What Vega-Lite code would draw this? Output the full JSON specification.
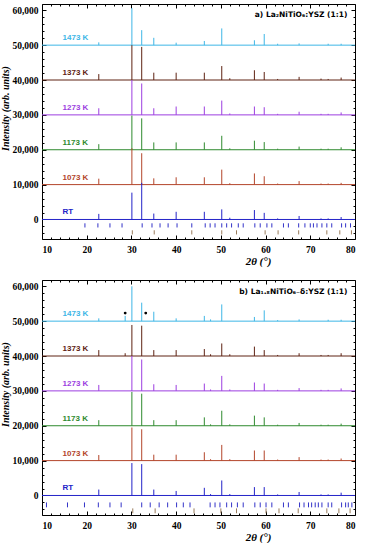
{
"$schema": "https://vega.github.io/schema/vega-lite/v6.json",
"padding": {"left": 0, "top": 3, "right": 9, "bottom": 0},
"spacing": 12,
"config": {"view": {"stroke": "#000", "strokeWidth": 1}, "axis": {"labelFont": "Liberation Serif", "labelFontWeight": "bold", "labelFontSize": 9.5, "labelColor": "#000", "titleFont": "Liberation Serif", "titleFontWeight": "bold", "titleFontStyle": "italic", "titleColor": "#000", "tickColor": "#000", "grid": false, "domain": false}},
"datasets": {
"bases": [
{"p":"a","T":"1473 K","b":50000},{"p":"a","T":"1373 K","b":40000},{"p":"a","T":"1273 K","b":30000},{"p":"a","T":"1173 K","b":20000},{"p":"a","T":"1073 K","b":10000},{"p":"a","T":"RT","b":0},
{"p":"b","T":"1473 K","b":50000},{"p":"b","T":"1373 K","b":40000},{"p":"b","T":"1273 K","b":30000},{"p":"b","T":"1173 K","b":20000},{"p":"b","T":"1073 K","b":10000},{"p":"b","T":"RT","b":0}
],
"peaks": [
{"p":"a","T":"1473 K","x":22.7,"b":50000,"t":50800},{"p":"a","T":"1473 K","x":30.1,"b":50000,"t":60600},{"p":"a","T":"1473 K","x":32.3,"b":50000,"t":54300},{"p":"a","T":"1473 K","x":35.0,"b":50000,"t":52100},{"p":"a","T":"1473 K","x":40.0,"b":50000,"t":50700},{"p":"a","T":"1473 K","x":46.3,"b":50000,"t":51200},{"p":"a","T":"1473 K","x":50.2,"b":50000,"t":54800},{"p":"a","T":"1473 K","x":57.5,"b":50000,"t":51400},{"p":"a","T":"1473 K","x":59.7,"b":50000,"t":53200},{"p":"a","T":"1473 K","x":62.7,"b":50000,"t":50400},{"p":"a","T":"1473 K","x":67.5,"b":50000,"t":50500},{"p":"a","T":"1473 K","x":74.0,"b":50000,"t":50400},{"p":"a","T":"1473 K","x":76.9,"b":50000,"t":50400},
{"p":"a","T":"1373 K","x":22.7,"b":40000,"t":41700},{"p":"a","T":"1373 K","x":30.1,"b":40000,"t":50000},{"p":"a","T":"1373 K","x":32.3,"b":40000,"t":49500},{"p":"a","T":"1373 K","x":35.0,"b":40000,"t":42100},{"p":"a","T":"1373 K","x":40.0,"b":40000,"t":42100},{"p":"a","T":"1373 K","x":46.3,"b":40000,"t":42100},{"p":"a","T":"1373 K","x":50.2,"b":40000,"t":44000},{"p":"a","T":"1373 K","x":52.0,"b":40000,"t":40500},{"p":"a","T":"1373 K","x":57.5,"b":40000,"t":42800},{"p":"a","T":"1373 K","x":59.7,"b":40000,"t":42300},{"p":"a","T":"1373 K","x":62.7,"b":40000,"t":40300},{"p":"a","T":"1373 K","x":67.5,"b":40000,"t":40900},{"p":"a","T":"1373 K","x":72.4,"b":40000,"t":40400},{"p":"a","T":"1373 K","x":74.0,"b":40000,"t":40300},{"p":"a","T":"1373 K","x":76.9,"b":40000,"t":40700},
{"p":"a","T":"1273 K","x":22.7,"b":30000,"t":31900},{"p":"a","T":"1273 K","x":30.1,"b":30000,"t":40000},{"p":"a","T":"1273 K","x":32.3,"b":30000,"t":39000},{"p":"a","T":"1273 K","x":35.0,"b":30000,"t":31900},{"p":"a","T":"1273 K","x":40.0,"b":30000,"t":32400},{"p":"a","T":"1273 K","x":46.3,"b":30000,"t":32400},{"p":"a","T":"1273 K","x":50.2,"b":30000,"t":34100},{"p":"a","T":"1273 K","x":52.0,"b":30000,"t":30400},{"p":"a","T":"1273 K","x":57.5,"b":30000,"t":32400},{"p":"a","T":"1273 K","x":59.7,"b":30000,"t":32200},{"p":"a","T":"1273 K","x":62.7,"b":30000,"t":30300},{"p":"a","T":"1273 K","x":67.5,"b":30000,"t":30900},{"p":"a","T":"1273 K","x":72.4,"b":30000,"t":30300},{"p":"a","T":"1273 K","x":74.0,"b":30000,"t":30300},{"p":"a","T":"1273 K","x":76.9,"b":30000,"t":30700},
{"p":"a","T":"1173 K","x":22.7,"b":20000,"t":21600},{"p":"a","T":"1173 K","x":30.1,"b":20000,"t":29800},{"p":"a","T":"1173 K","x":32.3,"b":20000,"t":29000},{"p":"a","T":"1173 K","x":35.0,"b":20000,"t":22100},{"p":"a","T":"1173 K","x":40.0,"b":20000,"t":22100},{"p":"a","T":"1173 K","x":46.3,"b":20000,"t":22100},{"p":"a","T":"1173 K","x":50.2,"b":20000,"t":24000},{"p":"a","T":"1173 K","x":52.0,"b":20000,"t":20400},{"p":"a","T":"1173 K","x":57.5,"b":20000,"t":22600},{"p":"a","T":"1173 K","x":59.7,"b":20000,"t":22200},{"p":"a","T":"1173 K","x":62.7,"b":20000,"t":20300},{"p":"a","T":"1173 K","x":67.5,"b":20000,"t":20900},{"p":"a","T":"1173 K","x":72.4,"b":20000,"t":20300},{"p":"a","T":"1173 K","x":74.0,"b":20000,"t":20300},{"p":"a","T":"1173 K","x":76.9,"b":20000,"t":20700},
{"p":"a","T":"1073 K","x":22.7,"b":10000,"t":11700},{"p":"a","T":"1073 K","x":30.1,"b":10000,"t":20400},{"p":"a","T":"1073 K","x":32.3,"b":10000,"t":19000},{"p":"a","T":"1073 K","x":35.0,"b":10000,"t":11800},{"p":"a","T":"1073 K","x":40.0,"b":10000,"t":12100},{"p":"a","T":"1073 K","x":46.3,"b":10000,"t":12100},{"p":"a","T":"1073 K","x":50.2,"b":10000,"t":14300},{"p":"a","T":"1073 K","x":52.0,"b":10000,"t":10400},{"p":"a","T":"1073 K","x":57.5,"b":10000,"t":13200},{"p":"a","T":"1073 K","x":59.7,"b":10000,"t":12400},{"p":"a","T":"1073 K","x":62.7,"b":10000,"t":10300},{"p":"a","T":"1073 K","x":67.5,"b":10000,"t":11000},{"p":"a","T":"1073 K","x":72.4,"b":10000,"t":10300},{"p":"a","T":"1073 K","x":74.0,"b":10000,"t":10300},{"p":"a","T":"1073 K","x":76.9,"b":10000,"t":10500},
{"p":"a","T":"RT","x":22.7,"b":0,"t":1600},{"p":"a","T":"RT","x":30.1,"b":0,"t":7700},{"p":"a","T":"RT","x":32.3,"b":0,"t":10500},{"p":"a","T":"RT","x":35.0,"b":0,"t":1700},{"p":"a","T":"RT","x":40.0,"b":0,"t":2200},{"p":"a","T":"RT","x":46.3,"b":0,"t":2200},{"p":"a","T":"RT","x":50.2,"b":0,"t":2900},{"p":"a","T":"RT","x":52.0,"b":0,"t":500},{"p":"a","T":"RT","x":57.5,"b":0,"t":2700},{"p":"a","T":"RT","x":59.7,"b":0,"t":1900},{"p":"a","T":"RT","x":62.7,"b":0,"t":300},{"p":"a","T":"RT","x":67.5,"b":0,"t":1000},{"p":"a","T":"RT","x":72.4,"b":0,"t":300},{"p":"a","T":"RT","x":74.0,"b":0,"t":300},{"p":"a","T":"RT","x":76.9,"b":0,"t":700},
{"p":"b","T":"1473 K","x":22.7,"b":50000,"t":50800},{"p":"b","T":"1473 K","x":28.6,"b":50000,"t":51500},{"p":"b","T":"1473 K","x":30.1,"b":50000,"t":60000},{"p":"b","T":"1473 K","x":32.3,"b":50000,"t":55300},{"p":"b","T":"1473 K","x":35.0,"b":50000,"t":52700},{"p":"b","T":"1473 K","x":40.0,"b":50000,"t":50800},{"p":"b","T":"1473 K","x":46.3,"b":50000,"t":51500},{"p":"b","T":"1473 K","x":47.7,"b":50000,"t":50500},{"p":"b","T":"1473 K","x":50.2,"b":50000,"t":54800},{"p":"b","T":"1473 K","x":57.5,"b":50000,"t":51200},{"p":"b","T":"1473 K","x":59.7,"b":50000,"t":53100},{"p":"b","T":"1473 K","x":62.7,"b":50000,"t":50300},{"p":"b","T":"1473 K","x":67.5,"b":50000,"t":50500},{"p":"b","T":"1473 K","x":74.0,"b":50000,"t":50400},{"p":"b","T":"1473 K","x":76.9,"b":50000,"t":50400},
{"p":"b","T":"1373 K","x":22.7,"b":40000,"t":41700},{"p":"b","T":"1373 K","x":28.6,"b":40000,"t":40800},{"p":"b","T":"1373 K","x":30.1,"b":40000,"t":48900},{"p":"b","T":"1373 K","x":32.3,"b":40000,"t":48700},{"p":"b","T":"1373 K","x":35.0,"b":40000,"t":41700},{"p":"b","T":"1373 K","x":40.0,"b":40000,"t":41700},{"p":"b","T":"1373 K","x":46.3,"b":40000,"t":42000},{"p":"b","T":"1373 K","x":47.7,"b":40000,"t":40500},{"p":"b","T":"1373 K","x":50.2,"b":40000,"t":43600},{"p":"b","T":"1373 K","x":52.0,"b":40000,"t":40500},{"p":"b","T":"1373 K","x":57.5,"b":40000,"t":42700},{"p":"b","T":"1373 K","x":59.7,"b":40000,"t":41700},{"p":"b","T":"1373 K","x":62.7,"b":40000,"t":40300},{"p":"b","T":"1373 K","x":67.5,"b":40000,"t":40800},{"p":"b","T":"1373 K","x":72.4,"b":40000,"t":40300},{"p":"b","T":"1373 K","x":74.0,"b":40000,"t":40300},{"p":"b","T":"1373 K","x":76.9,"b":40000,"t":40800},
{"p":"b","T":"1273 K","x":22.7,"b":30000,"t":31700},{"p":"b","T":"1273 K","x":30.1,"b":30000,"t":40000},{"p":"b","T":"1273 K","x":32.3,"b":30000,"t":39000},{"p":"b","T":"1273 K","x":35.0,"b":30000,"t":31900},{"p":"b","T":"1273 K","x":40.0,"b":30000,"t":31700},{"p":"b","T":"1273 K","x":46.3,"b":30000,"t":32100},{"p":"b","T":"1273 K","x":47.7,"b":30000,"t":30400},{"p":"b","T":"1273 K","x":50.2,"b":30000,"t":34300},{"p":"b","T":"1273 K","x":52.0,"b":30000,"t":30400},{"p":"b","T":"1273 K","x":57.5,"b":30000,"t":32400},{"p":"b","T":"1273 K","x":59.7,"b":30000,"t":32100},{"p":"b","T":"1273 K","x":62.7,"b":30000,"t":30300},{"p":"b","T":"1273 K","x":67.5,"b":30000,"t":30800},{"p":"b","T":"1273 K","x":72.4,"b":30000,"t":30300},{"p":"b","T":"1273 K","x":74.0,"b":30000,"t":30300},{"p":"b","T":"1273 K","x":76.9,"b":30000,"t":30700},
{"p":"b","T":"1173 K","x":22.7,"b":20000,"t":21600},{"p":"b","T":"1173 K","x":30.1,"b":20000,"t":29700},{"p":"b","T":"1173 K","x":32.3,"b":20000,"t":29200},{"p":"b","T":"1173 K","x":35.0,"b":20000,"t":21600},{"p":"b","T":"1173 K","x":40.0,"b":20000,"t":21600},{"p":"b","T":"1173 K","x":46.3,"b":20000,"t":22400},{"p":"b","T":"1173 K","x":47.7,"b":20000,"t":20400},{"p":"b","T":"1173 K","x":50.2,"b":20000,"t":24300},{"p":"b","T":"1173 K","x":52.0,"b":20000,"t":20400},{"p":"b","T":"1173 K","x":57.5,"b":20000,"t":22900},{"p":"b","T":"1173 K","x":59.7,"b":20000,"t":22400},{"p":"b","T":"1173 K","x":62.7,"b":20000,"t":20300},{"p":"b","T":"1173 K","x":67.5,"b":20000,"t":20800},{"p":"b","T":"1173 K","x":72.4,"b":20000,"t":20300},{"p":"b","T":"1173 K","x":74.0,"b":20000,"t":20300},{"p":"b","T":"1173 K","x":76.9,"b":20000,"t":20600},
{"p":"b","T":"1073 K","x":22.7,"b":10000,"t":11600},{"p":"b","T":"1073 K","x":30.1,"b":10000,"t":19500},{"p":"b","T":"1073 K","x":32.3,"b":10000,"t":19000},{"p":"b","T":"1073 K","x":35.0,"b":10000,"t":11700},{"p":"b","T":"1073 K","x":40.0,"b":10000,"t":11700},{"p":"b","T":"1073 K","x":46.3,"b":10000,"t":12400},{"p":"b","T":"1073 K","x":47.7,"b":10000,"t":10400},{"p":"b","T":"1073 K","x":50.2,"b":10000,"t":14500},{"p":"b","T":"1073 K","x":52.0,"b":10000,"t":10400},{"p":"b","T":"1073 K","x":57.5,"b":10000,"t":12900},{"p":"b","T":"1073 K","x":59.7,"b":10000,"t":12900},{"p":"b","T":"1073 K","x":62.7,"b":10000,"t":10300},{"p":"b","T":"1073 K","x":67.5,"b":10000,"t":11000},{"p":"b","T":"1073 K","x":72.4,"b":10000,"t":10300},{"p":"b","T":"1073 K","x":74.0,"b":10000,"t":10300},{"p":"b","T":"1073 K","x":76.9,"b":10000,"t":10600},
{"p":"b","T":"RT","x":22.7,"b":0,"t":1700},{"p":"b","T":"RT","x":30.1,"b":0,"t":9300},{"p":"b","T":"RT","x":32.3,"b":0,"t":9000},{"p":"b","T":"RT","x":35.0,"b":0,"t":1700},{"p":"b","T":"RT","x":40.0,"b":0,"t":1300},{"p":"b","T":"RT","x":46.3,"b":0,"t":2200},{"p":"b","T":"RT","x":47.7,"b":0,"t":400},{"p":"b","T":"RT","x":50.2,"b":0,"t":4300},{"p":"b","T":"RT","x":52.0,"b":0,"t":400},{"p":"b","T":"RT","x":57.5,"b":0,"t":2400},{"p":"b","T":"RT","x":59.7,"b":0,"t":2400},{"p":"b","T":"RT","x":62.7,"b":0,"t":300},{"p":"b","T":"RT","x":67.5,"b":0,"t":1000},{"p":"b","T":"RT","x":72.4,"b":0,"t":300},{"p":"b","T":"RT","x":74.0,"b":0,"t":300},{"p":"b","T":"RT","x":76.9,"b":0,"t":800}
],
"bragg": [
{"p":"a","s":"L","x":19.6},{"p":"a","s":"L","x":22.5},{"p":"a","s":"L","x":25.2},{"p":"a","s":"L","x":27.9},{"p":"a","s":"L","x":32.4},{"p":"a","s":"L","x":34.6},{"p":"a","s":"L","x":36.4},{"p":"a","s":"L","x":38.2},{"p":"a","s":"L","x":40.2},{"p":"a","s":"L","x":43.5},{"p":"a","s":"L","x":46.5},{"p":"a","s":"L","x":47.6},{"p":"a","s":"L","x":48.7},{"p":"a","s":"L","x":50.2},{"p":"a","s":"L","x":51.3},{"p":"a","s":"L","x":52.4},{"p":"a","s":"L","x":53.9},{"p":"a","s":"L","x":55.0},{"p":"a","s":"L","x":57.6},{"p":"a","s":"L","x":58.8},{"p":"a","s":"L","x":60.3},{"p":"a","s":"L","x":61.4},{"p":"a","s":"L","x":64.0},{"p":"a","s":"L","x":65.1},{"p":"a","s":"L","x":67.4},{"p":"a","s":"L","x":68.8},{"p":"a","s":"L","x":70.0},{"p":"a","s":"L","x":70.7},{"p":"a","s":"L","x":71.5},{"p":"a","s":"L","x":72.6},{"p":"a","s":"L","x":73.7},{"p":"a","s":"L","x":74.8},{"p":"a","s":"L","x":77.0},{"p":"a","s":"L","x":77.9},{"p":"a","s":"L","x":79.0},
{"p":"a","s":"Y","x":30.2},{"p":"a","s":"Y","x":35.1},{"p":"a","s":"Y","x":43.5},{"p":"a","s":"Y","x":50.2},{"p":"a","s":"Y","x":53.5},{"p":"a","s":"Y","x":59.9},{"p":"a","s":"Y","x":62.8},{"p":"a","s":"Y","x":67.4},{"p":"a","s":"Y","x":73.7},{"p":"a","s":"Y","x":76.6},{"p":"a","s":"Y","x":79.2},
{"p":"b","s":"L","x":11.0},{"p":"b","s":"L","x":15.7},{"p":"b","s":"L","x":19.5},{"p":"b","s":"L","x":22.6},{"p":"b","s":"L","x":25.2},{"p":"b","s":"L","x":27.7},{"p":"b","s":"L","x":32.3},{"p":"b","s":"L","x":34.2},{"p":"b","s":"L","x":36.2},{"p":"b","s":"L","x":38.1},{"p":"b","s":"L","x":40.1},{"p":"b","s":"L","x":41.6},{"p":"b","s":"L","x":43.1},{"p":"b","s":"L","x":47.6},{"p":"b","s":"L","x":48.7},{"p":"b","s":"L","x":49.8},{"p":"b","s":"L","x":51.3},{"p":"b","s":"L","x":52.4},{"p":"b","s":"L","x":53.7},{"p":"b","s":"L","x":55.0},{"p":"b","s":"L","x":57.6},{"p":"b","s":"L","x":58.8},{"p":"b","s":"L","x":60.1},{"p":"b","s":"L","x":61.4},{"p":"b","s":"L","x":64.0},{"p":"b","s":"L","x":65.1},{"p":"b","s":"L","x":67.6},{"p":"b","s":"L","x":68.6},{"p":"b","s":"L","x":69.6},{"p":"b","s":"L","x":70.3},{"p":"b","s":"L","x":71.1},{"p":"b","s":"L","x":71.8},{"p":"b","s":"L","x":72.6},{"p":"b","s":"L","x":74.0},{"p":"b","s":"L","x":74.8},{"p":"b","s":"L","x":77.0},{"p":"b","s":"L","x":77.9},{"p":"b","s":"L","x":78.5},{"p":"b","s":"L","x":79.3},
{"p":"b","s":"Y","x":30.3},{"p":"b","s":"Y","x":35.3},{"p":"b","s":"Y","x":44.0},{"p":"b","s":"Y","x":50.0},{"p":"b","s":"Y","x":53.5},{"p":"b","s":"Y","x":60.1},{"p":"b","s":"Y","x":63.0},{"p":"b","s":"Y","x":67.3},{"p":"b","s":"Y","x":73.7},{"p":"b","s":"Y","x":76.4},{"p":"b","s":"Y","x":78.9}
],
"stars": [{"x":28.6,"y":52300},{"x":33.2,"y":52300}]
},
"vconcat": [
{
"width": 313, "height": 235,
"resolve": {"axis": {"x": "independent", "y": "independent"}},
"layer": [
{"data": {"name": "bases"}, "transform": [{"filter": "datum.p === 'a'"}],
 "mark": {"type": "rule", "strokeWidth": 1},
 "encoding": {"y": {"field": "b", "type": "quantitative", "scale": {"domain": [-5600, 61800], "nice": false, "zero": false}, "axis": null},
  "color": {"field": "T", "type": "nominal", "scale": {"domain": ["1473 K","1373 K","1273 K","1173 K","1073 K","RT"], "range": ["#3eb6e6","#5e2212","#9c3ee0","#2e8a2e","#b3452a","#2323c8"]}, "legend": null}}},
{"data": {"name": "peaks"}, "transform": [{"filter": "datum.p === 'a'"}],
 "mark": {"type": "rule", "strokeWidth": 1},
 "encoding": {
  "x": {"field": "x", "type": "quantitative", "scale": {"domain": [10, 80], "nice": false, "zero": false}, "axis": {"orient": "bottom", "values": [10,20,30,40,50,60,70,80], "ticks": false, "labelPadding": 5, "title": "2θ (°)", "titleFontSize": 11, "titleX": 216, "titlePadding": 2}},
  "y": {"field": "b", "type": "quantitative", "scale": {"domain": [-5600, 61800], "nice": false, "zero": false}, "axis": {"orient": "left", "values": [0,10000,20000,30000,40000,50000,60000], "labelExpr": "format(datum.value, ',')", "ticks": false, "labelPadding": 4, "title": "Intensity (arb. units)", "titleFontSize": 10, "titleY": 104, "titlePadding": 1}},
  "y2": {"field": "t"},
  "color": {"field": "T", "type": "nominal", "scale": {"domain": ["1473 K","1373 K","1273 K","1173 K","1073 K","RT"], "range": ["#3eb6e6","#5e2212","#9c3ee0","#2e8a2e","#b3452a","#2323c8"]}, "legend": null}}},
{"data": {"name": "bragg"}, "transform": [{"filter": "datum.p === 'a' && datum.s === 'L'"}],
 "mark": {"type": "rule", "strokeWidth": 1, "color": "#3333c8"},
 "encoding": {
  "x": {"field": "x", "type": "quantitative", "scale": {"domain": [10, 80], "nice": false, "zero": false}, "axis": {"orient": "bottom", "values": [10,20,30,40,50,60,70,80], "labels": false, "tickSize": -4, "title": null}},
  "y": {"datum": -1100, "type": "quantitative", "scale": {"domain": [-5600, 61800], "nice": false, "zero": false}, "axis": {"orient": "left", "values": [0,10000,20000,30000,40000,50000,60000], "labels": false, "tickSize": -4, "title": null}},
  "y2": {"datum": -2300}}},
{"data": {"name": "bragg"}, "transform": [{"filter": "datum.p === 'a' && datum.s === 'Y'"}],
 "mark": {"type": "rule", "strokeWidth": 1, "color": "#9a7c5c"},
 "encoding": {
  "x": {"field": "x", "type": "quantitative", "scale": {"domain": [10, 80], "nice": false, "zero": false}, "axis": {"orient": "bottom", "values": [12,14,16,18,22,24,26,28,32,34,36,38,42,44,46,48,52,54,56,58,62,64,66,68,72,74,76,78], "labels": false, "tickSize": -2, "title": null}},
  "y": {"datum": -3100, "type": "quantitative", "scale": {"domain": [-5600, 61800], "nice": false, "zero": false}, "axis": {"orient": "left", "values": [-4000,-2000,2000,4000,6000,8000,12000,14000,16000,18000,22000,24000,26000,28000,32000,34000,36000,38000,42000,44000,46000,48000,52000,54000,56000,58000], "labels": false, "tickSize": -2, "title": null}},
  "y2": {"datum": -4300}}},
{"data": {"name": "bases"}, "transform": [{"filter": "datum.p === 'a'"}],
 "mark": {"type": "text", "align": "left", "baseline": "middle", "dy": -7, "font": "Liberation Sans", "fontWeight": "bold", "fontSize": 8},
 "encoding": {
  "x": {"datum": 14.6, "type": "quantitative", "scale": {"domain": [10, 80], "nice": false, "zero": false}, "axis": {"orient": "top", "values": [10,20,30,40,50,60,70,80], "labels": false, "tickSize": -4, "title": null}},
  "y": {"field": "b", "type": "quantitative", "scale": {"domain": [-5600, 61800], "nice": false, "zero": false}, "axis": {"orient": "right", "values": [0,10000,20000,30000,40000,50000,60000], "labels": false, "tickSize": -4, "title": null}},
  "text": {"field": "T"},
  "color": {"field": "T", "type": "nominal", "scale": {"domain": ["1473 K","1373 K","1273 K","1173 K","1073 K","RT"], "range": ["#3eb6e6","#5e2212","#9c3ee0","#2e8a2e","#b3452a","#2323c8"]}, "legend": null}}},
{"data": {"values": [{"label": "a) La₂NiTiO₆:YSZ (1:1)"}]},
 "mark": {"type": "text", "align": "right", "baseline": "middle", "font": "DejaVu Sans", "fontWeight": "bold", "fontSize": 7.5, "color": "#000"},
 "encoding": {
  "x": {"datum": 78.3, "type": "quantitative", "scale": {"domain": [10, 80], "nice": false, "zero": false}, "axis": {"orient": "top", "values": [12,14,16,18,22,24,26,28,32,34,36,38,42,44,46,48,52,54,56,58,62,64,66,68,72,74,76,78], "labels": false, "tickSize": -2, "title": null}},
  "y": {"datum": 58600, "type": "quantitative", "scale": {"domain": [-5600, 61800], "nice": false, "zero": false}, "axis": {"orient": "right", "values": [-4000,-2000,2000,4000,6000,8000,12000,14000,16000,18000,22000,24000,26000,28000,32000,34000,36000,38000,42000,44000,46000,48000,52000,54000,56000,58000], "labels": false, "tickSize": -2, "title": null}},
  "text": {"field": "label"}}}
]
},
{
"width": 313, "height": 235,
"resolve": {"axis": {"x": "independent", "y": "independent"}},
"layer": [
{"data": {"name": "bases"}, "transform": [{"filter": "datum.p === 'b'"}],
 "mark": {"type": "rule", "strokeWidth": 1},
 "encoding": {"y": {"field": "b", "type": "quantitative", "scale": {"domain": [-5600, 61800], "nice": false, "zero": false}, "axis": null},
  "color": {"field": "T", "type": "nominal", "scale": {"domain": ["1473 K","1373 K","1273 K","1173 K","1073 K","RT"], "range": ["#3eb6e6","#5e2212","#9c3ee0","#2e8a2e","#b3452a","#2323c8"]}, "legend": null}}},
{"data": {"name": "peaks"}, "transform": [{"filter": "datum.p === 'b'"}],
 "mark": {"type": "rule", "strokeWidth": 1},
 "encoding": {
  "x": {"field": "x", "type": "quantitative", "scale": {"domain": [10, 80], "nice": false, "zero": false}, "axis": {"orient": "bottom", "values": [10,20,30,40,50,60,70,80], "ticks": false, "labelPadding": 5, "title": "2θ (°)", "titleFontSize": 11, "titleX": 216, "titlePadding": 2}},
  "y": {"field": "b", "type": "quantitative", "scale": {"domain": [-5600, 61800], "nice": false, "zero": false}, "axis": {"orient": "left", "values": [0,10000,20000,30000,40000,50000,60000], "labelExpr": "format(datum.value, ',')", "ticks": false, "labelPadding": 4, "title": "Intensity (arb. units)", "titleFontSize": 10, "titleY": 104, "titlePadding": 1}},
  "y2": {"field": "t"},
  "color": {"field": "T", "type": "nominal", "scale": {"domain": ["1473 K","1373 K","1273 K","1173 K","1073 K","RT"], "range": ["#3eb6e6","#5e2212","#9c3ee0","#2e8a2e","#b3452a","#2323c8"]}, "legend": null}}},
{"data": {"name": "bragg"}, "transform": [{"filter": "datum.p === 'b' && datum.s === 'L'"}],
 "mark": {"type": "rule", "strokeWidth": 1, "color": "#3333c8"},
 "encoding": {
  "x": {"field": "x", "type": "quantitative", "scale": {"domain": [10, 80], "nice": false, "zero": false}, "axis": {"orient": "bottom", "values": [10,20,30,40,50,60,70,80], "labels": false, "tickSize": -4, "title": null}},
  "y": {"datum": -2000, "type": "quantitative", "scale": {"domain": [-5600, 61800], "nice": false, "zero": false}, "axis": {"orient": "left", "values": [0,10000,20000,30000,40000,50000,60000], "labels": false, "tickSize": -4, "title": null}},
  "y2": {"datum": -3400}}},
{"data": {"name": "bragg"}, "transform": [{"filter": "datum.p === 'b' && datum.s === 'Y'"}],
 "mark": {"type": "rule", "strokeWidth": 1, "color": "#9a7c5c"},
 "encoding": {
  "x": {"field": "x", "type": "quantitative", "scale": {"domain": [10, 80], "nice": false, "zero": false}, "axis": {"orient": "bottom", "values": [12,14,16,18,22,24,26,28,32,34,36,38,42,44,46,48,52,54,56,58,62,64,66,68,72,74,76,78], "labels": false, "tickSize": -2, "title": null}},
  "y": {"datum": -3700, "type": "quantitative", "scale": {"domain": [-5600, 61800], "nice": false, "zero": false}, "axis": {"orient": "left", "values": [-4000,-2000,2000,4000,6000,8000,12000,14000,16000,18000,22000,24000,26000,28000,32000,34000,36000,38000,42000,44000,46000,48000,52000,54000,56000,58000], "labels": false, "tickSize": -2, "title": null}},
  "y2": {"datum": -5100}}},
{"data": {"name": "bases"}, "transform": [{"filter": "datum.p === 'b'"}],
 "mark": {"type": "text", "align": "left", "baseline": "middle", "dy": -7, "font": "Liberation Sans", "fontWeight": "bold", "fontSize": 8},
 "encoding": {
  "x": {"datum": 14.6, "type": "quantitative", "scale": {"domain": [10, 80], "nice": false, "zero": false}, "axis": {"orient": "top", "values": [10,20,30,40,50,60,70,80], "labels": false, "tickSize": -4, "title": null}},
  "y": {"field": "b", "type": "quantitative", "scale": {"domain": [-5600, 61800], "nice": false, "zero": false}, "axis": {"orient": "right", "values": [0,10000,20000,30000,40000,50000,60000], "labels": false, "tickSize": -4, "title": null}},
  "text": {"field": "T"},
  "color": {"field": "T", "type": "nominal", "scale": {"domain": ["1473 K","1373 K","1273 K","1173 K","1073 K","RT"], "range": ["#3eb6e6","#5e2212","#9c3ee0","#2e8a2e","#b3452a","#2323c8"]}, "legend": null}}},
{"data": {"values": [{"label": "b) La₁.₈NiTiO₆₋δ:YSZ (1:1)"}]},
 "mark": {"type": "text", "align": "right", "baseline": "middle", "font": "DejaVu Sans", "fontWeight": "bold", "fontSize": 7.5, "color": "#000"},
 "encoding": {
  "x": {"datum": 78.3, "type": "quantitative", "scale": {"domain": [10, 80], "nice": false, "zero": false}, "axis": {"orient": "top", "values": [12,14,16,18,22,24,26,28,32,34,36,38,42,44,46,48,52,54,56,58,62,64,66,68,72,74,76,78], "labels": false, "tickSize": -2, "title": null}},
  "y": {"datum": 58300, "type": "quantitative", "scale": {"domain": [-5600, 61800], "nice": false, "zero": false}, "axis": {"orient": "right", "values": [-4000,-2000,2000,4000,6000,8000,12000,14000,16000,18000,22000,24000,26000,28000,32000,34000,36000,38000,42000,44000,46000,48000,52000,54000,56000,58000], "labels": false, "tickSize": -2, "title": null}},
  "text": {"field": "label"}}},
{"data": {"name": "stars"},
 "mark": {"type": "point", "filled": true, "size": 8, "color": "#000", "opacity": 1},
 "encoding": {
  "x": {"field": "x", "type": "quantitative", "scale": {"domain": [10, 80], "nice": false, "zero": false}, "axis": null},
  "y": {"field": "y", "type": "quantitative", "scale": {"domain": [-5600, 61800], "nice": false, "zero": false}, "axis": null}}}
]
}
]
}
